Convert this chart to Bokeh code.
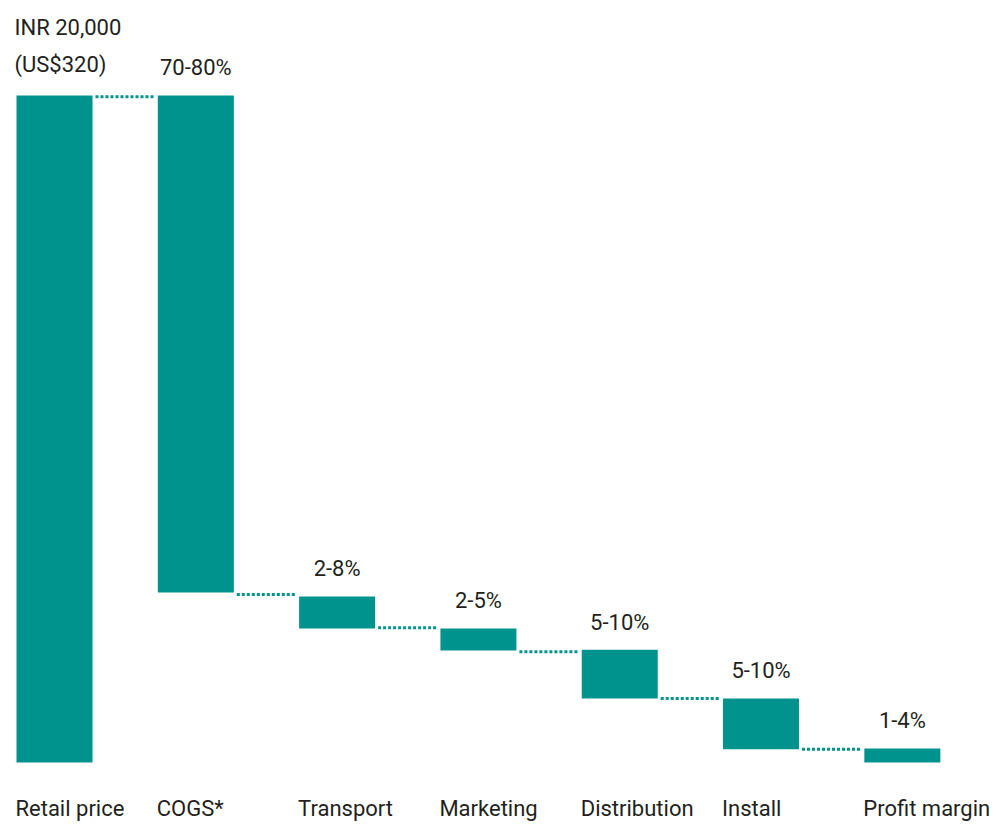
from bokeh.plotting import figure
from bokeh.models import ColumnDataSource, Range1d, LabelSet
from bokeh.core.properties import value
from bokeh.embed import file_html
from bokeh.resources import INLINE

# ---- data (percent of retail price) ----
categories = ["Retail price", "COGS*", "Transport", "Marketing", "Distribution", "Install", "Profit margin"]
bar_top = [100.0, 100.0, 24.9, 20.1, 16.9, 9.6, 2.1]
bar_bottom = [0.0, 25.5, 20.1, 16.8, 9.6, 2.0, 0.0]
value_labels = ["", "70-80%", "2-8%", "2-5%", "5-10%", "5-10%", "1-4%"]
connector_level = [99.8, 25.2, 20.2, 16.6, 9.6, 2.0]
retail_lines = ["INR 20,000", "(US$320)"]

COLOR = "#00938D"
TEXT = "#231f20"
FONT = "Roboto"
FS = "22px"
BAR_W = 0.538
n = len(categories)
xs = list(range(n))

p = figure(width=992, height=822, output_backend="svg", toolbar_location=None,
           x_range=Range1d(-0.3822, 6.638), y_range=Range1d(-9.0, 114.24),
           min_border=0, outline_line_color=None)
p.axis.visible = False
p.grid.visible = False
p.background_fill_color = "white"
p.border_fill_color = "white"

bars = ColumnDataSource(dict(x=xs, top=bar_top, bottom=bar_bottom))
p.vbar(x="x", top="top", bottom="bottom", width=BAR_W, source=bars,
       fill_color=COLOR, line_color=None)

# dotted connectors between bars
gap = 0.021
cx0 = [i + BAR_W / 2 + gap for i in range(n - 1)]
cx1 = [i + 1 - BAR_W / 2 - gap for i in range(n - 1)]
p.segment(x0=cx0, y0=connector_level, x1=cx1, y1=connector_level,
          line_color=COLOR, line_width=3, line_dash="3 2")

# value labels above bars
vl = ColumnDataSource(dict(x=xs[1:], y=bar_top[1:], t=value_labels[1:]))
p.add_layout(LabelSet(x="x", y="y", text="t", source=vl, y_offset=20,
                      text_align="center", text_baseline="alphabetic",
                      text_font=value(FONT), text_font_size=FS, text_color=TEXT))

# retail price label (two lines, left aligned at bar left)
rl = ColumnDataSource(dict(x=[xs[0] - BAR_W / 2] * 2, y=[bar_top[0]] * 2,
                           t=retail_lines, yo=[60, 23]))
p.add_layout(LabelSet(x="x", y="y", text="t", source=rl, y_offset="yo", x_offset=-2,
                      text_align="left", text_baseline="alphabetic",
                      text_font=value(FONT), text_font_size=FS, text_color=TEXT))

# category labels, left-aligned at bar left edge
cl = ColumnDataSource(dict(x=[i - BAR_W / 2 for i in xs], y=[0.0] * n, t=categories))
p.add_layout(LabelSet(x="x", y="y", text="t", source=cl, y_offset=-54, x_offset=-1,
                      text_align="left", text_baseline="alphabetic",
                      text_font=value(FONT), text_font_size=FS, text_color=TEXT))

open("out.html", "w").write(file_html(p, INLINE))
